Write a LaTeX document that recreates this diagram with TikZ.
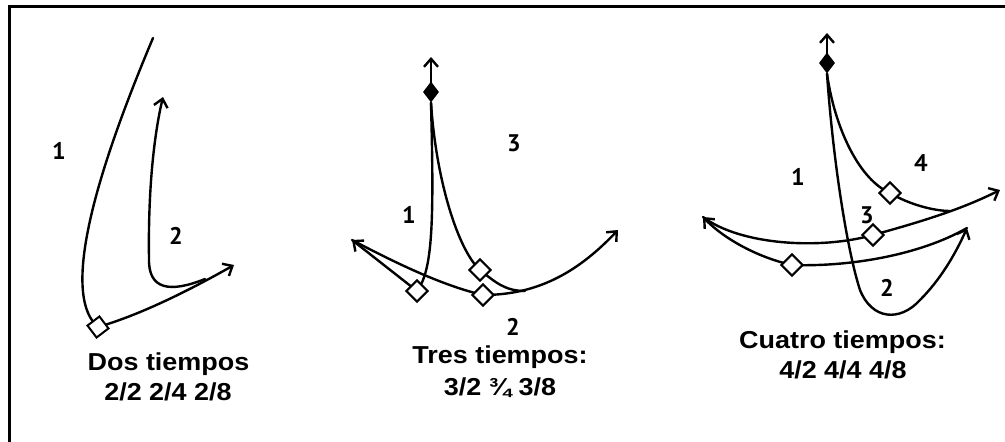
\documentclass[tikz,border=0pt]{standalone}
\usepackage{fontspec}
\setmainfont{Liberation Sans}
\newfontfamily\capfont[FakeStretch=1.1]{Liberation Sans}
\newfontfamily\numfont{PT Sans}
\usetikzlibrary{arrows.meta,shapes.geometric}
\begin{document}
\begin{tikzpicture}[x=1pt,y=-1pt,
  stroke/.style={line width=2.4pt, line cap=round, line join=round},
  arr/.style={stroke, -{Straight Barb[length=8pt,width=14pt,line width=2.4pt]}},
  ictus/.style={draw, line width=2pt, fill=white, rectangle, minimum size=15pt, inner sep=0pt, rotate=45},
  topd/.style={diamond, fill=black, minimum width=16pt, minimum height=21pt, inner sep=0pt},
  num/.style={font=\numfont\bfseries\fontsize{24}{24}\selectfont, inner sep=0pt},
  captext/.style={font=\capfont\bfseries\fontsize{24.5}{28}\selectfont, anchor=base, inner sep=0pt}]
\useasboundingbox (0,0) rectangle (1005,442);
% frame
\coordinate (fTL) at (9,6);
\coordinate (fTR) at (1005,6);
\coordinate (fBL) at (9,442);
\draw[line width=3pt] (fTR) -- (fTL) -- (fBL);

% ---------- Dos tiempos ----------
\coordinate (a1s) at (153,38);
\coordinate (a1d) at (98,327);
\coordinate (a1e) at (234,265);
\coordinate (a1j) at (205,279);
\coordinate (a1b) at (149,258);
\coordinate (a1t) at (163,97);
\draw[arr] (a1s) .. controls (110,140) and (55,290) .. (a1d) .. controls (140,315) and (190,290) .. (a1e);
\draw[arr] (a1j) .. controls (170,293) and (148,290) .. (a1b) .. controls (148,190) and (154,135) .. (a1t);
\node[ictus, rotate=-8] (d1) at (a1d) {};
\node[num] (n11) at (59,151) {1};
\node[num] (n12) at (176,236) {2};
\node[captext] (c1a) at (168.5,370) {Dos tiempos};
\node[captext] (c1b) at (168,400) {2/2 2/4 2/8};

% ---------- Tres tiempos ----------
\node[topd] (f2) at (431,92) {};
\coordinate (b2tip) at (431,57);
\coordinate (b2l) at (417,291);
\coordinate (b2m) at (483,295);
\coordinate (b2u) at (480,270);
\coordinate (b2la) at (352,240);
\coordinate (b2ra) at (618,230);
\coordinate (b2j) at (525,291);
\draw[arr] (f2.center) -- (b2tip);
\draw[stroke] (f2.south) .. controls (434,220) and (433,270) .. (b2l);
\draw[arr] (b2l) -- (b2la);
\draw[arr] (b2la) .. controls (390,260) and (440,285) .. (b2m) .. controls (540,295) and (580,270) .. (b2ra);
\draw[stroke] (f2.south) .. controls (436,180) and (458,250) .. (b2u) .. controls (495,282) and (505,291) .. (b2j);
\node[ictus] (d2l) at (b2l) {};
\node[ictus] (d2m) at (b2m) {};
\node[ictus] (d2u) at (b2u) {};
\node[num] (n23) at (514,143) {3};
\node[num] (n21) at (409,215) {1};
\node[num] (n22) at (513,327) {2};
\node[captext] (c2a) at (500,363) {Tres tiempos:};
\node[captext] (c2b) at (500,395) {3/2 ¾ 3/8};

% ---------- Cuatro tiempos ----------
\node[topd] (f3) at (827,63) {};
\coordinate (c3tip) at (827,33);
\coordinate (c3low) at (792,265);
\coordinate (c3mid) at (873,235);
\coordinate (c3up) at (890,193);
\coordinate (c3la) at (703,217);
\coordinate (c3ra) at (1000,190);
\coordinate (c3rb) at (967,228);
\coordinate (c3j) at (950,211);
\draw[arr] (f3.center) -- (c3tip);
\draw[arr] (f3.south) .. controls (833,160) and (847,250) .. (860,290) .. controls (872,320) and (900,322) .. (920,300) .. controls (940,280) and (955,255) .. (c3rb);
\draw[stroke] (c3low) .. controls (850,267) and (920,255) .. (c3rb);
\draw[arr] (c3low) .. controls (760,258) and (725,240) .. (c3la);
\draw[arr] (c3la) .. controls (740,245) and (820,250) .. (c3mid) .. controls (920,222) and (960,210) .. (c3ra);
\draw[stroke] (f3.south) .. controls (835,130) and (860,180) .. (c3up) .. controls (910,205) and (935,211) .. (c3j);
\node[ictus] (d3l) at (c3low) {};
\node[ictus] (d3m) at (c3mid) {};
\node[ictus] (d3u) at (c3up) {};
\node[num] (n31) at (798,177) {1};
\node[num] (n34) at (921,163) {4};
\node[num] (n33) at (867,215) {3};
\node[num] (n32) at (887,288) {2};
\node[captext] (c3a) at (842.5,348) {Cuatro tiempos:};
\node[captext] (c3b) at (843,378) {4/2 4/4 4/8};
\end{tikzpicture}
\end{document}
